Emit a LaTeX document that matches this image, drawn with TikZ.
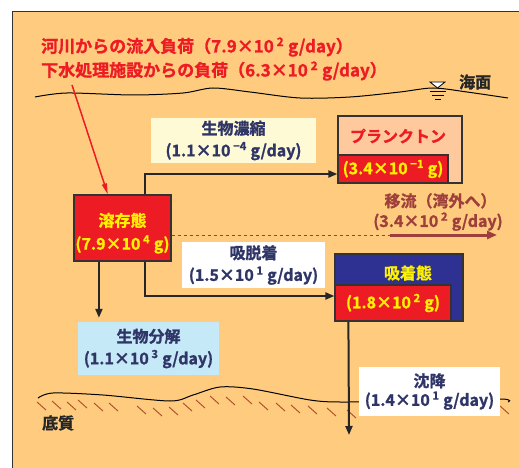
\documentclass[tikz,border=0pt]{standalone}
\usepackage{fontspec}
\setmainfont{Noto Sans CJK JP}[BoldFont={Noto Sans CJK JP Bold}, BoldFeatures={FakeBold=1.2}]
\usetikzlibrary{arrows.meta,calc}
\definecolor{sand}{HTML}{FFCC7F}
\definecolor{peach}{HTML}{FFC99E}
\definecolor{poolred}{HTML}{ED1C24}
\definecolor{poolyellow}{HTML}{FFF200}
\definecolor{navybox}{HTML}{2E3192}
\definecolor{tagnavy}{HTML}{2F3566}
\definecolor{paleyellow}{HTML}{FFFAD6}
\definecolor{paleblue}{HTML}{C6E9F8}
\definecolor{advbrown}{HTML}{9E3F3C}
\definecolor{hatchbrown}{HTML}{B5532E}
\definecolor{boxgray}{HTML}{333333}
\newcommand{\pw}[1]{\,\textsuperscript{#1}}
\tikzset{
	box/.style={draw=boxgray, line width=1.2pt, inner sep=0pt},
	pool/.style={box, fill=poolred, text=poolyellow, font=\fontsize{16}{20}\selectfont\bfseries},
	tag/.style={fill=#1, text=tagnavy, align=center, inner sep=0pt, font=\fontsize{16}{22}\selectfont\bfseries},
	flow/.style={line width=2pt, draw=black!85, -{Triangle[length=9pt,width=7pt]}},
}
\begin{document}
\begin{tikzpicture}[x=1pt,y=-1pt]
	\useasboundingbox (0,0) rectangle (519,468);
	\fill[sand] (12,12) rectangle (519,468);
	\draw[boxgray, line width=1pt] (12,468) -- (12,12) -- (519,12);
	% sea surface
	\draw[line width=1pt] plot[smooth] coordinates {(35,97) (67,93) (133,95) (183,93) (213,88) (250,92) (300,98) (350,97) (400,92) (433,88) (467,92) (508,98)};
	\draw[fill=white, line width=0.8pt] (430,82) -- (445,82) -- (437.5,88) -- cycle;
	\draw[line width=0.8pt] (430,91) -- (446,91) (432,95) -- (444,95) (435,99) -- (441,99);
	\node[anchor=west, inner sep=0pt, font=\fontsize{16}{20}\selectfont\bfseries, text=black!85] (sea) at (459,82) {海面};
	% seabed
	\draw[line width=1pt] plot[smooth] coordinates {(38,398) (53,393) (103,395) (170,401) (193,395) (220,387) (253,389) (310,400) (340,402) (400,401) (500,399) (508,402)};
	\foreach \x/\y in {37/402,52/401,67/402,78/400,94/403,109/403,137/406,153/408,169/407,183/403,196/400,210/396,226/397,243/396,259/402,276/403,291/405,308/406,327/408,347/410,500/406}
		\draw[hatchbrown, line width=1pt] (\x,\y) -- ++(9,8);
	\node[anchor=west, inner sep=0pt, font=\fontsize{16}{20}\selectfont\bfseries, text=black!85] (bed) at (42,423) {底質};
	% loads
	\node[anchor=west, inner sep=0pt, font=\fontsize{17}{20}\selectfont\bfseries, text=poolred] (river) at (41,47) {河川からの流入負荷（7.9×10\pw{2} g/day）};
	\node[anchor=west, inner sep=0pt, font=\fontsize{17}{20}\selectfont\bfseries, text=poolred] (sewage) at (41,71) {下水処理施設からの負荷（6.3×10\pw{2} g/day）};
	% pools
	\node[pool, minimum width=97pt, minimum height=66pt] (diss) at (122.5,228) {};
	\node[text=poolyellow, font=\fontsize{16}{20}\selectfont\bfseries, inner sep=0pt] at ($(diss.north)+(0,26)$) {溶存態};
	\node[text=poolyellow, font=\fontsize{16}{20}\selectfont\bfseries, inner sep=0pt] at ($(diss.north)+(0,50)$) {(7.9×10\pw{4} g)};
	\node[box, fill=peach, minimum width=124pt, minimum height=67pt] (plank) at (400,149.5) {};
	\node[text=poolred, font=\fontsize{16}{20}\selectfont\bfseries, inner sep=0pt] at (398,136) {プランクトン};
	\node[pool, minimum width=110pt, minimum height=28pt, anchor=south west] (plankval) at (plank.south west) {(3.4×10\pw{−1} g)};
	\node[box, fill=navybox, minimum width=128pt, minimum height=67pt] (sorb) at (399,287.5) {};
	\node[text=poolyellow, font=\fontsize{16}{20}\selectfont\bfseries, inner sep=0pt] at (408,273) {吸着態};
	\node[pool, minimum width=116pt, minimum height=36pt, anchor=south west] (sorbval) at (sorb.south west) {(1.8×10\pw{2} g)};
	% rates
	\node[tag=paleyellow, minimum width=165pt, minimum height=45pt] (conc) at (233.5,140.5) {生物濃縮\\(1.1×10\pw{−4} g/day)};
	\node[tag=white, minimum width=143pt, minimum height=46pt] (sorp) at (253.5,265) {吸脱着\\(1.5×10\pw{1} g/day)};
	\node[tag=paleblue, minimum width=141pt, minimum height=53pt] (deg) at (148.5,348.5) {生物分解\\(1.1×10\pw{3} g/day)};
	\node[text=advbrown, align=center, inner sep=0pt, font=\fontsize{16}{20}\selectfont\bfseries] (adv) at (438,212) {\hspace*{5pt}移流（湾外へ）\\(3.4×10\pw{2} g/day)};
	% flows
	\path ($(diss.north west)!0.35!(diss.north east)$) coordinate (inflow)
		($(diss.north west)!0.73!(diss.north east)$) coordinate (up)
		($(diss.south west)!0.73!(diss.south east)$) coordinate (down)
		($(diss.south west)!0.26!(diss.south east)$) coordinate (decay)
		(390,235) coordinate (advmid)
		(497,235) coordinate (advend)
		($(sorb.south west)+(14,0)$) coordinate (settle)
		(349,435) coordinate (settleend);
	\draw[poolred, line width=1.5pt, -{Triangle[length=11pt,width=5pt]}] (72,85) coordinate (src) -- (inflow);
	\draw[flow] (up) |- ($(plankval.west)+(0,5)$);
	\draw[flow] (down) |- ($(sorbval.west)+(0,-7)$);
	\draw[flow, shorten >=4pt] (decay) -- (decay |- deg.north);
	\draw[advbrown, line width=1pt, dashed] ($(diss.east)+(0,7)$) -- (advmid);
	\draw[advbrown, line width=3pt, -{Triangle[length=10pt,width=8pt]}] (advmid) -- (advend);
	\draw[flow] (settle) -- (settleend);
	\node[tag=white, minimum width=141pt, minimum height=49pt] (sed) at (429.5,391.5) {沈降\\[-3pt](1.4×10\pw{1} g/day)};
\end{tikzpicture}
\end{document}
